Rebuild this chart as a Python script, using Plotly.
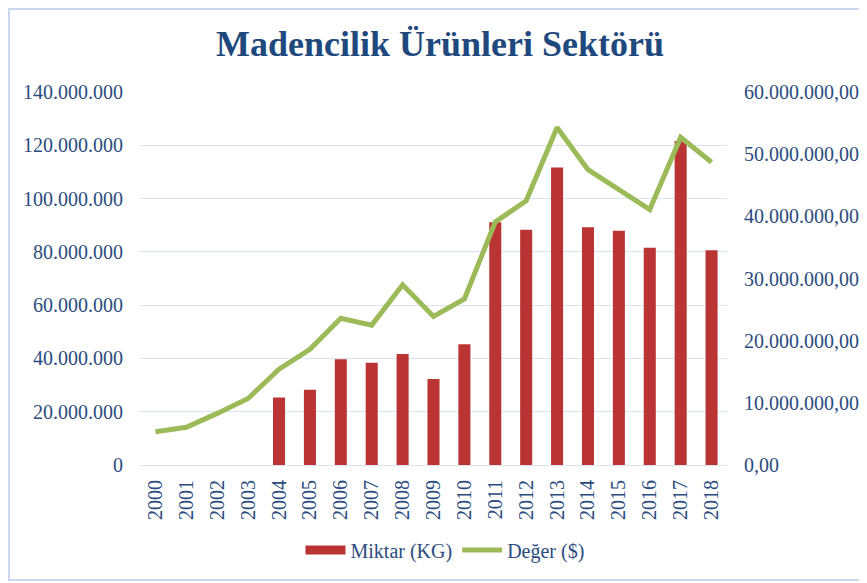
import plotly.graph_objects as go

years = [str(y) for y in range(2000, 2019)]
miktar_kg = [None, None, None, None,
             25.3e6, 28.2e6, 39.7e6, 38.4e6, 41.7e6, 32.3e6, 45.3e6,
             91.1e6, 88.3e6, 111.7e6, 89.2e6, 87.9e6, 81.5e6, 121.6e6, 80.6e6]
deger_usd = [5.35e6, 6.06e6, 8.3e6, 10.7e6, 15.4e6, 18.6e6, 23.6e6, 22.5e6,
             29.0e6, 23.9e6, 26.7e6, 39.1e6, 42.5e6, 54.3e6, 47.5e6, 44.2e6,
             41.1e6, 52.7e6, 48.7e6]

title_text = "Madencilik Ürünleri Sektörü"
font_family = "Liberation Serif"
text_color = "#2B4C7E"
grid_color = "#DAE4F1"
bar_color = "#BB3434"

W, H = 859, 575
L, R, T, B = 132, 140, 84, 118
PW, PH = W - L - R, H - T - B

fig = go.Figure()
fig.add_trace(go.Bar(
    x=years, y=miktar_kg, name="Miktar (KG)",
    marker=dict(color=bar_color, line=dict(width=0)),
    width=0.39, yaxis="y", showlegend=False,
))
# legend entry drawn as a wide red swatch like the original
fig.add_trace(go.Scatter(
    x=[None], y=[None], name="Miktar (KG)", mode="lines",
    line=dict(color=bar_color, width=9), yaxis="y",
))
fig.add_trace(go.Scatter(
    x=years, y=deger_usd, name="Değer ($)", mode="lines",
    line=dict(color="#9BBB59", width=5), yaxis="y2",
))

fig.update_layout(
    width=W, height=H,
    margin=dict(l=L, r=R, t=T, b=B, autoexpand=False),
    paper_bgcolor="white", plot_bgcolor="white",
    separators=",.",
    font=dict(family=font_family, color=text_color, size=20),
    title=dict(text="<b>" + title_text + "</b>", x=432 / W, xanchor="center",
               y=1 - 35 / H, yanchor="middle",
               font=dict(family=font_family, size=36, color="#1F497D")),
    xaxis=dict(type="category", tickangle=-90, showgrid=False, automargin=False,
               showline=True, linecolor=grid_color, linewidth=1,
               ticks="", ticklabelstandoff=6,
               tickfont=dict(family=font_family, size=20, color=text_color)),
    yaxis=dict(range=[0, 140e6], dtick=20e6, tickformat=",d", automargin=False,
               showgrid=True, gridcolor=grid_color, gridwidth=1,
               zeroline=False, showline=False, ticks="",
               ticklabelstandoff=16,
               tickfont=dict(family=font_family, size=20, color=text_color)),
    yaxis2=dict(range=[0, 60e6], dtick=10e6, tickformat=",.2f", automargin=False,
                overlaying="y", side="right", showgrid=False,
                zeroline=False, showline=False, ticks="",
                ticklabelstandoff=16,
                tickfont=dict(family=font_family, size=20, color=text_color)),
    legend=dict(orientation="h", x=(437 - L) / PW, xanchor="center",
                y=(457 - 542) / PH, yanchor="middle",
                font=dict(family=font_family, size=20, color=text_color),
                bgcolor="rgba(0,0,0,0)", itemwidth=40),
    showlegend=True,
    shapes=[dict(type="rect", xref="paper", yref="paper",
                 x0=(1 - L) / PW, x1=(854 - L) / PW,
                 y0=(H - B - 572) / PH, y1=(H - B - 1) / PH,
                 line=dict(color="#C9D8EE", width=2),
                 fillcolor="rgba(0,0,0,0)", layer="below")],
)

fig.write_html("out.html")
